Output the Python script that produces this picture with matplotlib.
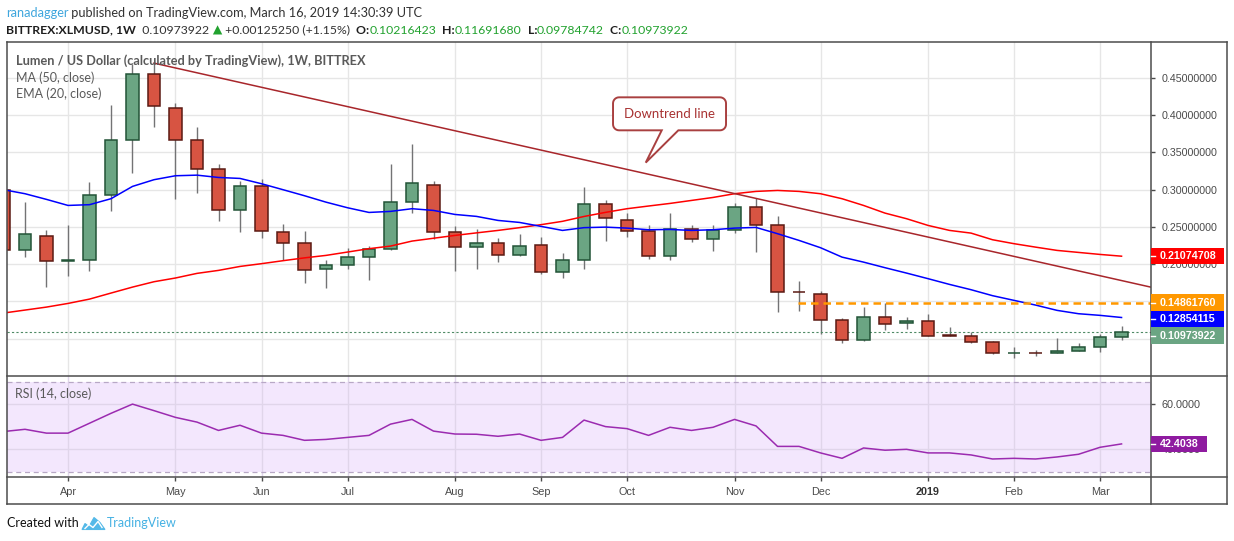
import numpy as np
import matplotlib
matplotlib.use('Agg')
import matplotlib.pyplot as plt
from matplotlib.lines import Line2D
from matplotlib.patches import Polygon, Rectangle

# ---------------- data (weekly candles, Mar 12 2018 .. Mar 11 2019) ----------------
opens = [0.300, 0.2194, 0.2382, 0.2045, 0.206, 0.2932, 0.3669, 0.4554, 0.4098, 0.3669,
         0.328, 0.2731, 0.3052, 0.243, 0.2288, 0.194, 0.1993, 0.210, 0.2208, 0.2838,
         0.3066, 0.2436, 0.2235, 0.2288, 0.2127, 0.2261, 0.190, 0.206, 0.2806, 0.2596,
         0.2449, 0.2114, 0.2476, 0.2342, 0.2462, 0.2771, 0.253, 0.1631, 0.1604, 0.1247,
         0.0978, 0.1296, 0.1216, 0.1243, 0.1045, 0.1041, 0.0961, 0.0808, 0.0816, 0.0812,
         0.084, 0.0894, 0.10216423]
highs = [0.310, 0.283, 0.246, 0.2524, 0.310, 0.413, 0.468, 0.4696, 0.416, 0.384,
         0.335, 0.311, 0.314, 0.254, 0.244, 0.205, 0.222, 0.225, 0.334, 0.3606,
         0.312, 0.251, 0.247, 0.235, 0.241, 0.237, 0.215, 0.304, 0.2855, 0.268,
         0.253, 0.269, 0.253, 0.252, 0.282, 0.289, 0.265, 0.178, 0.1645, 0.128,
         0.142, 0.148, 0.1287, 0.1327, 0.1153, 0.109, 0.0965, 0.0885, 0.085, 0.101,
         0.0938, 0.107, 0.11691680]
lows = [0.210, 0.2095, 0.169, 0.184, 0.191, 0.271, 0.322, 0.3838, 0.288, 0.295,
        0.258, 0.243, 0.235, 0.205, 0.175, 0.168, 0.193, 0.179, 0.219, 0.269,
        0.234, 0.191, 0.193, 0.203, 0.211, 0.187, 0.181, 0.193, 0.231, 0.236,
        0.207, 0.2055, 0.2296, 0.2176, 0.242, 0.216, 0.136, 0.137, 0.107, 0.095,
        0.0975, 0.112, 0.113, 0.1036, 0.1035, 0.0942, 0.0795, 0.0741, 0.077, 0.081,
        0.083, 0.082, 0.09784742]
closes = [0.2194, 0.2399, 0.2047, 0.2055, 0.2932, 0.3669, 0.4554, 0.4115, 0.3669, 0.328,
          0.2731, 0.3052, 0.2449, 0.2288, 0.1926, 0.1993, 0.210, 0.2208, 0.2838, 0.3092,
          0.2436, 0.2235, 0.2288, 0.2127, 0.2248, 0.190, 0.206, 0.2811, 0.2614, 0.2449,
          0.2114, 0.2476, 0.2342, 0.2462, 0.2771, 0.253, 0.1631, 0.1622, 0.1247, 0.0978,
          0.1291, 0.1202, 0.1243, 0.1041, 0.1040, 0.0961, 0.0808, 0.0815, 0.0812, 0.084,
          0.0894, 0.10216, 0.10973922]
ma50 = [0.1345, 0.1385, 0.1425, 0.1474, 0.1532, 0.1613, 0.1693, 0.1765, 0.1815, 0.1877,
        0.1917, 0.197, 0.2007, 0.2047, 0.2085, 0.2118, 0.2163, 0.2208, 0.2243, 0.231,
        0.2348, 0.2386, 0.242, 0.2453, 0.249, 0.253, 0.2575, 0.264, 0.2695, 0.2744,
        0.278, 0.2815, 0.2855, 0.2895, 0.2945, 0.2976, 0.2989, 0.2976, 0.2945, 0.2878,
        0.2788, 0.2685, 0.261, 0.252, 0.2453, 0.2417, 0.2328, 0.2275, 0.2229, 0.2185,
        0.2158, 0.2131, 0.21074708]
ema20 = [0.2999, 0.2945, 0.2869, 0.2788, 0.2798, 0.2878, 0.3043, 0.3133, 0.3186, 0.3194,
         0.3163, 0.315, 0.3079, 0.2999, 0.2918, 0.2832, 0.2757, 0.2694, 0.2708, 0.2744,
         0.2721, 0.2667, 0.2641, 0.2587, 0.256, 0.2507, 0.2453, 0.249, 0.2497, 0.2484,
         0.2462, 0.2466, 0.2453, 0.2462, 0.2484, 0.2493, 0.2409, 0.2319, 0.2221, 0.2095,
         0.2028, 0.1953, 0.1881, 0.1806, 0.1729, 0.1658, 0.1578, 0.1515, 0.1452, 0.1381,
         0.1336, 0.1314, 0.12854115]
rsi = [47.9, 48.9, 47.2, 47.2, 51.6, 56.0, 60.1, 57.2, 54.2, 52.1,
       48.4, 50.7, 47.2, 46.2, 44.0, 44.4, 45.3, 46.2, 51.2, 53.3,
       48.1, 46.8, 46.7, 45.8, 46.8, 44.0, 45.3, 53.0, 50.1, 49.2,
       46.2, 49.8, 48.4, 49.8, 53.3, 50.4, 41.3, 41.3, 38.4, 36.0,
       40.6, 39.6, 40.0, 38.4, 38.4, 37.5, 35.7, 36.0, 35.7, 36.6,
       37.8, 40.9, 42.4038]
month_ticks = [3, 8, 12, 16, 21, 25, 29, 34, 38, 43, 47, 51]
month_labels = ['Apr', 'May', 'Jun', 'Jul', 'Aug', 'Sep', 'Oct', 'Nov', 'Dec', '2019', 'Feb', 'Mar']
price_ticks = [0.10, 0.15, 0.20, 0.25, 0.30, 0.35, 0.40, 0.45]
rsi_ticks = [40, 60]
rsi_bands = [30, 70]
trend_x = [7, 53.4]
trend_y = [0.4696, 0.1690]
res_level = 0.14861760
res_start = 36.95
last_close = 0.10973922
callout_text = 'Downtrend line'
callout_tip = (29.87, 0.3362)

# ---------------- figure ----------------
W, H = 1234, 541
plt.rcParams['font.family'] = ['Liberation Sans', 'DejaVu Sans']
fig = plt.figure(figsize=(W / 100, H / 100), dpi=100)
fig.patch.set_facecolor('white')
renderer = fig.canvas.get_renderer()

def fx(x):
    return x / W

def fy(y):
    return 1 - y / H

def frect(x0, y0, x1, y1):
    return [x0 / W, 1 - y1 / H, (x1 - x0) / W, (y1 - y0) / H]

LEFT, RIGHT, AXR = 6.5, 1151, 1227
TOP, SEP, BOT, XB = 41.5, 376, 477.3, 504

ax = fig.add_axes(frect(LEFT, TOP, RIGHT, SEP))
axr = fig.add_axes(frect(LEFT, SEP, RIGHT, BOT), sharex=ax)

idx = np.arange(len(closes))
o = np.array(opens); c = np.array(closes); hi = np.array(highs); lo = np.array(lows)
up = c >= o

# ---- main pane ----
ax.set_xlim(0.14, 53.37)
ax.set_ylim(0.0501, 0.4986)
ax.set_axisbelow(True)
ax.grid(True, color='#e6e6e6', lw=1.0)
ax.set_xticks(month_ticks)
ax.set_yticks(price_ticks)
ax.yaxis.tick_right()
ax.tick_params(axis='x', length=0, labelbottom=False)
ax.tick_params(axis='y', length=3, width=1, direction='out', pad=4.5,
               labelsize=7.7, colors='#4a4a4a')
for s in ax.spines.values():
    s.set_visible(False)

ax.vlines(idx, lo, hi, color='#737375', lw=1.0, zorder=2)
bw = 0.57
body_h = np.maximum(np.abs(c - o), 0.0004)
ax.bar(idx[up], body_h[up], bottom=np.minimum(o, c)[up], width=bw,
       color='#6ba583', edgecolor='#225437', lw=1.1, zorder=3)
ax.bar(idx[~up], body_h[~up], bottom=np.minimum(o, c)[~up], width=bw,
       color='#d75442', edgecolor='#5b1a13', lw=1.1, zorder=3)

ax.plot(idx, ma50, color='#ff0000', lw=1.1, zorder=4)
ax.plot(idx, ema20, color='#0000ff', lw=1.1, zorder=4)
ax.plot(trend_x, trend_y, color='#a8262b', lw=1.1, zorder=4)
ax.plot([res_start, 60], [res_level, res_level], color='#ff9800', lw=1.8,
        ls=(0, (3, 2)), zorder=4)
ax.axhline(last_close, color='#4f8a65', lw=0.8, ls=(0, (2, 2)), zorder=2)

# ---- RSI pane ----
axr.set_ylim(27.56, 72.6)
axr.axhspan(rsi_bands[0], rsi_bands[1], color='#f3e7fd', zorder=0, lw=0)
for b in rsi_bands:
    axr.axhline(b, color='#b8a8c6', lw=0.9, ls=(0, (4, 3)), zorder=1)
axr.set_axisbelow(True)
axr.grid(True, color='#e0d5ea', lw=1.0)
axr.set_yticks(rsi_ticks)
axr.yaxis.tick_right()
axr.set_yticklabels([f'{v:.4f}' for v in rsi_ticks])
axr.set_xticks(month_ticks)
axr.set_xticklabels(month_labels)
axr.tick_params(axis='both', length=3, width=1, direction='out', labelsize=7.8,
                colors='#4a4a4a')
axr.tick_params(axis='x', pad=4)
axr.tick_params(axis='y', pad=4.5)
axr.get_xticklabels()[9].set_fontweight('bold')
axr.get_xticklabels()[9].set_color('#333333')
for s in axr.spines.values():
    s.set_visible(False)
axr.plot(idx, rsi, color='#9b2bb0', lw=1.1, zorder=3)

# ---- frame lines ----
fc = '#4d4d4d'
for (x0, y0, x1, y1) in [(LEFT, TOP, AXR, TOP), (LEFT, SEP, AXR, SEP), (LEFT, BOT, AXR, BOT),
                         (LEFT, XB, AXR, XB), (LEFT, TOP, LEFT, XB), (RIGHT, TOP, RIGHT, XB),
                         (AXR, TOP, AXR, XB)]:
    fig.add_artist(Line2D([fx(x0), fx(x1)], [fy(y0), fy(y1)], color=fc, lw=1.1,
                          transform=fig.transFigure))

# ---------------- text helpers ----------------
def measure(s, size, weight, fam):
    t = fig.text(0, 0, s, fontsize=size, fontweight=weight, family=fam)
    w = t.get_window_extent(renderer).width
    t.remove()
    return w

def run(x, y, pieces, target=None, fam='Lato', size=None):
    if size is None:
        w = sum(measure(s, 10, wt, f or fam) for s, col, wt, f in pieces)
        size = 10 * target / w
    cx = x
    for s, col, wt, f in pieces:
        t = fig.text(fx(cx), fy(y), s, fontsize=size, fontweight=wt, family=f or fam,
                     color=col, va='center', ha='left')
        cx += t.get_window_extent(renderer).width
    return size

green = '#22a22f'
run(6, 12.7, [('ranadagger', '#3fa6dd', 'normal', None),
              (' published on TradingView.com, March 16, 2019 14:30:39 UTC', '#333333', 'normal', None)], 417)
run(6, 30, [('BITTREX:XLMUSD, 1W', '#1e1e1e', 'bold', None),
            ('  0.10973922', '#333333', 'normal', None),
            (' \u25B2', green, 'normal', 'DejaVu Sans'),
            (' +0.00125250 (+1.15%)', '#333333', 'normal', None),
            ('  O:', '#1e1e1e', 'bold', None), ('0.10216423', green, 'normal', None),
            ('  H:', '#1e1e1e', 'bold', None), ('0.11691680', green, 'normal', None),
            ('  L:', '#1e1e1e', 'bold', None), ('0.09784742', green, 'normal', None),
            ('  C:', '#1e1e1e', 'bold', None), ('0.10973922', green, 'normal', None)], 682)

run(15.7, 60.7, [('Lumen / US Dollar (calculated by TradingView), 1W, BITTREX', '#5a5a5a', 'bold', None)], 352)
lsize = run(15.7, 94, [('EMA (20, close)', '#5a5a5a', 'normal', None)], 86)
run(15.7, 77.3, [('MA (50, close)', '#5a5a5a', 'normal', None)], size=lsize)
run(15.3, 394, [('RSI (14, close)', '#5a5a5a', 'normal', None)], size=lsize)
run(7, 523, [('Created with', '#111111', 'normal', None)], 71.5)
run(107, 523, [('TradingView', '#45b1e3', 'normal', None)], 70)

# TradingView logo (simple cloud/zigzag)
lx, ly = 82, 529.5
logo = [(0, 0), (3, -6), (7, -3), (12, -12), (18, -7), (23, 0)]
fig.add_artist(Polygon([(fx(lx + a), fy(ly + b)) for a, b in logo], closed=True,
                       facecolor='#54b9e8', edgecolor='#54b9e8', lw=0.8,
                       transform=fig.transFigure))
zig = [(3, -1), (7, -5), (11, -2), (16, -8), (20, -2)]
fig.add_artist(Line2D([fx(lx + a) for a, b in zig], [fy(ly + b) for a, b in zig],
                      color='white', lw=1.0, transform=fig.transFigure))

# ---------------- right-axis value labels ----------------
def data_to_px(axis, x, y):
    dx, dy = axis.transData.transform((x, y))
    return dx, H - dy

labels = [(ma50[-1], '#ff0000'), (res_level, '#ff9800'), (ema20[-1], '#0000ff'),
          (last_close, '#6ba583')]
hb = 16.5
items = sorted([(data_to_px(ax, 0, v)[1], v, col) for v, col in labels])
boxes = []
prev_bottom = -1e9
for ypx, v, col in items:
    top = max(ypx - hb / 2, prev_bottom)
    prev_bottom = top + hb
    boxes.append((top, top + hb))
    fig.add_artist(Rectangle((fx(RIGHT), fy(top + hb)), 73 / W, hb / H, facecolor=col,
                             edgecolor='none', transform=fig.transFigure, zorder=5))
    fig.add_artist(Line2D([fx(RIGHT), fx(RIGHT + 4)], [fy(top + hb / 2)] * 2, color='white',
                          lw=1, transform=fig.transFigure, zorder=6))
    fig.text(fx(1160), fy(top + hb / 2 + 0.3), f'{v:.8f}', color='white', fontsize=7.7,
             fontweight='bold', va='center', ha='left', zorder=7)

# price tick labels that sit (almost) entirely under a value box are not visible
tick_txt = []
for v in price_ticks:
    yp = data_to_px(ax, 0, v)[1]
    hidden = any(b0 - 1 <= yp - 4 and yp + 4 <= b1 + 1 for b0, b1 in boxes)
    tick_txt.append('' if hidden else f'{v:.8f}')
ax.set_yticklabels(tick_txt)

ry = data_to_px(axr, 0, rsi[-1])[1]
fig.add_artist(Rectangle((fx(RIGHT), fy(ry + 8)), 56 / W, 16 / H, facecolor='#8f1ba0',
                         edgecolor='none', transform=fig.transFigure, zorder=5))
fig.add_artist(Line2D([fx(RIGHT), fx(RIGHT + 4)], [fy(ry)] * 2, color='white',
                      lw=1, transform=fig.transFigure, zorder=6))
fig.text(fx(1160), fy(ry + 0.3), f'{rsi[-1]:.4f}', color='white', fontsize=7.7,
         fontweight='bold', va='center', ha='left', zorder=7)

# ---------------- callout ----------------
tx, ty = data_to_px(ax, *callout_tip)
bx0, by0, bx1, by1 = tx - 32.7, ty - 65.3, tx + 80.3, ty - 32.3
r = 6
pts = []
def arc(cx, cy, a0, a1):
    for t in np.linspace(a0, a1, 8):
        pts.append((cx + r * np.cos(t), cy + r * np.sin(t)))
arc(bx0 + r, by0 + r, np.pi, 1.5 * np.pi)
arc(bx1 - r, by0 + r, 1.5 * np.pi, 2 * np.pi)
arc(bx1 - r, by1 - r, 0, 0.5 * np.pi)
pts += [(tx + 32.6, by1), (tx, ty), (tx + 16, by1)]
arc(bx0 + r, by1 - r, 0.5 * np.pi, np.pi)
fig.add_artist(Polygon([(fx(a), fy(b)) for a, b in pts], closed=True, facecolor='white',
                       edgecolor='#a94040', lw=1.4, transform=fig.transFigure, zorder=8))
t = fig.text(fx((bx0 + bx1) / 2), fy((by0 + by1) / 2), callout_text, color='#a83232',
             family='Lato', fontsize=10, ha='center', va='center', zorder=9)
w = t.get_window_extent(renderer).width
t.set_fontsize(10 * 91 / w)

fig.savefig('out.png', dpi=100)
